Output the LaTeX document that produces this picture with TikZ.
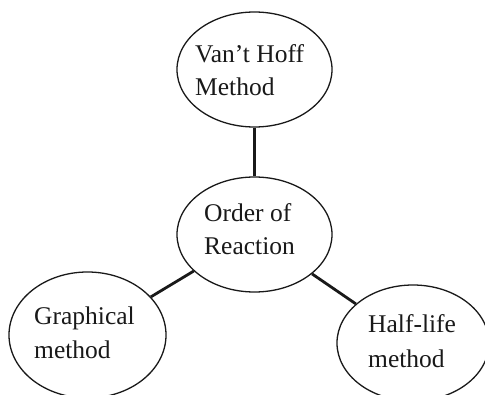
\documentclass[tikz,border=0pt]{standalone}
\usepackage{fontspec}
\setmainfont{Liberation Serif}
\usetikzlibrary{shapes.geometric}
\begin{document}
\begin{tikzpicture}[x=1pt,y=1pt,
  oval/.style={draw=black!90, line width=1.3pt, ellipse, inner sep=0pt},
  lbl/.style={anchor=base west, inner sep=0pt, font=\fontsize{25.5}{33}\selectfont, text=black!90},
  link/.style={line width=2.8pt, draw=black!90}]
\useasboundingbox (0,0) rectangle (485,394);
\node[oval, minimum width=155, minimum height=115] (vh) at (254.5,324.5) {};
\node[oval, minimum width=155, minimum height=115] (or) at (254.5,159.5) {};
\node[oval, minimum width=157, minimum height=126] (gr) at (87.5,59) {};
\node[oval, minimum width=152, minimum height=116] (hl) at (413,51) {};
\node[lbl] (t1) at (195,331.3) {Van’t Hoff};
\node[lbl] (t2) at (195,298) {Method};
\node[lbl] (t3) at (204,172.3) {Order of};
\node[lbl] (t4) at (204,139) {Reaction};
\node[lbl] (t5) at (34,69) {Graphical};
\node[lbl] (t6) at (34,35) {method};
\node[lbl] (t7) at (368,61) {Half-life};
\node[lbl] (t8) at (368,27) {method};
\draw[link] (vh) -- (or);
\draw[link] (or) -- (gr);
\draw[link] (or) -- (hl);
\end{tikzpicture}
\end{document}
